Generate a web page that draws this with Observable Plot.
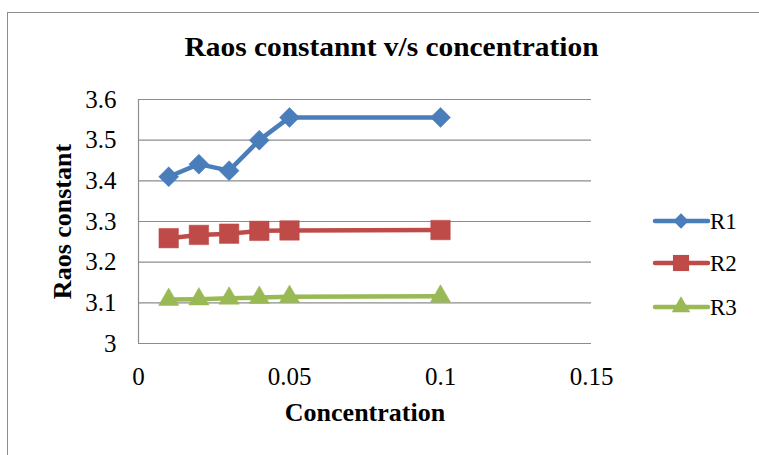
<!DOCTYPE html>
<html>
<head>
<meta charset="utf-8">
<script src="https://cdn.jsdelivr.net/npm/d3@7"></script>
<script src="https://cdn.jsdelivr.net/npm/@observablehq/plot@0.6"></script>
<style>
  html, body { margin: 0; padding: 0; background: #fff; }
  #wrap { position: relative; width: 759px; height: 455px; overflow: hidden; font-family: "Liberation Serif", "Times New Roman", serif; }
  #border { position: absolute; left: 7px; top: 12px; width: 800px; height: 500px; border: 1px solid #8c8c8c; box-sizing: border-box; }
  #title { position: absolute; left: 0; width: 783px; top: 31px; text-align: center; font-weight: bold; font-size: 28px; color: #000; transform: scaleX(1.05); transform-origin: 391px 0; }
  #chart { position: absolute; left: 0; top: 0; }
  #legend { position: absolute; left: 0; top: 0; }
</style>
</head>
<body>
<div id="wrap">
  <div id="border"></div>
  <div id="chart"></div>
  <div id="title">Raos constannt v/s concentration</div>
  <svg id="legend" width="759" height="455"></svg>
</div>
<script>
const concentration = [0.01, 0.02, 0.03, 0.04, 0.05, 0.1];
const R1 = [3.41, 3.441, 3.425, 3.5, 3.556, 3.556];
const R2 = [3.259, 3.267, 3.270, 3.277, 3.278, 3.279];
const R3 = [3.108, 3.109, 3.111, 3.113, 3.115, 3.116];
const seriesNames = ["R1", "R2", "R3"];
const seriesValues = [R1, R2, R3];
const xTicks = [0, 0.05, 0.1, 0.15];
const yTicks = [3, 3.1, 3.2, 3.3, 3.4, 3.5, 3.6];

const colors = {R1: "#4A7EBB", R2: "#BE4B48", R3: "#98B954"};
const symbols = {R1: "diamond2", R2: "square", R3: "triangle"};
const radii = {R1: 9, R2: 11, R3: 7.5};

const data = [];
seriesNames.forEach((s, i) => concentration.forEach((c, j) => data.push({series: s, x: c, y: seriesValues[i][j]})));

const fmt = d3.format("~g");
const font = "'Liberation Serif', 'Times New Roman', serif";

const chart = Plot.plot({
  width: 759,
  height: 455,
  marginLeft: 138,
  marginRight: 168,
  marginTop: 99,
  marginBottom: 112,
  style: {fontFamily: font, fontSize: "25px", color: "#000", background: "transparent", overflow: "visible"},
  x: {domain: [0, 0.15], label: null},
  y: {domain: [3, 3.6], label: null},
  marks: [
    Plot.gridY(yTicks, {stroke: "#8c8c8c", strokeOpacity: 1, strokeWidth: 1.2}),
    Plot.ruleX([0], {stroke: "#8c8c8c", strokeWidth: 1.2}),
    Plot.ruleY([3], {stroke: "#8c8c8c", strokeWidth: 1.2}),
    Plot.axisX({ticks: xTicks, tickFormat: fmt, tickSize: 0, tickPadding: 24, fontSize: 25, fontFamily: font, label: null}),
    Plot.axisY({ticks: yTicks, tickFormat: fmt, tickSize: 0, tickPadding: 22, fontSize: 25, fontFamily: font, label: null}),
    ...seriesNames.map(s => Plot.line(data.filter(d => d.series === s), {x: "x", y: "y", stroke: colors[s], strokeWidth: 4.5})),
    ...seriesNames.map(s => Plot.dot(data.filter(d => d.series === s), {x: "x", y: "y", symbol: () => symbols[s], fill: colors[s], stroke: colors[s], strokeWidth: 0.5, r: radii[s]})),
    Plot.text(["Concentration"], {frameAnchor: "bottom", lineAnchor: "middle", textAnchor: "middle", dy: 69, fontWeight: "bold", fontSize: 26, fontFamily: font, fill: "#000"}),
    Plot.text(["Raos constant"], {frameAnchor: "left", textAnchor: "middle", lineAnchor: "middle", rotate: -90, dx: -76, fontWeight: "bold", fontSize: 26, fontFamily: font, fill: "#000"})
  ]
});
document.getElementById("chart").appendChild(chart);

// Legend
const lg = d3.select("#legend");
const legendY = [221, 263, 307];
seriesNames.forEach((s, i) => {
  const g = lg.append("g").attr("transform", `translate(0,${legendY[i]})`);
  g.append("line").attr("x1", 655).attr("x2", 708).attr("y1", 0).attr("y2", 0)
    .attr("stroke", colors[s]).attr("stroke-width", 4.5).attr("stroke-linecap", "round");
  const symType = {R1: d3.symbolDiamond2, R2: d3.symbolSquare, R3: d3.symbolTriangle}[s];
  const size = {R1: 150, R2: 260, R3: 150}[s];
  g.append("path").attr("d", d3.symbol(symType, size)()).attr("transform", "translate(681,0)").attr("fill", colors[s]);
  g.append("text").attr("x", 710).attr("y", 0).attr("dy", "0.35em").attr("font-family", font)
    .attr("font-size", 23).attr("fill", "#000").text(s);
});
</script>
</body>
</html>
